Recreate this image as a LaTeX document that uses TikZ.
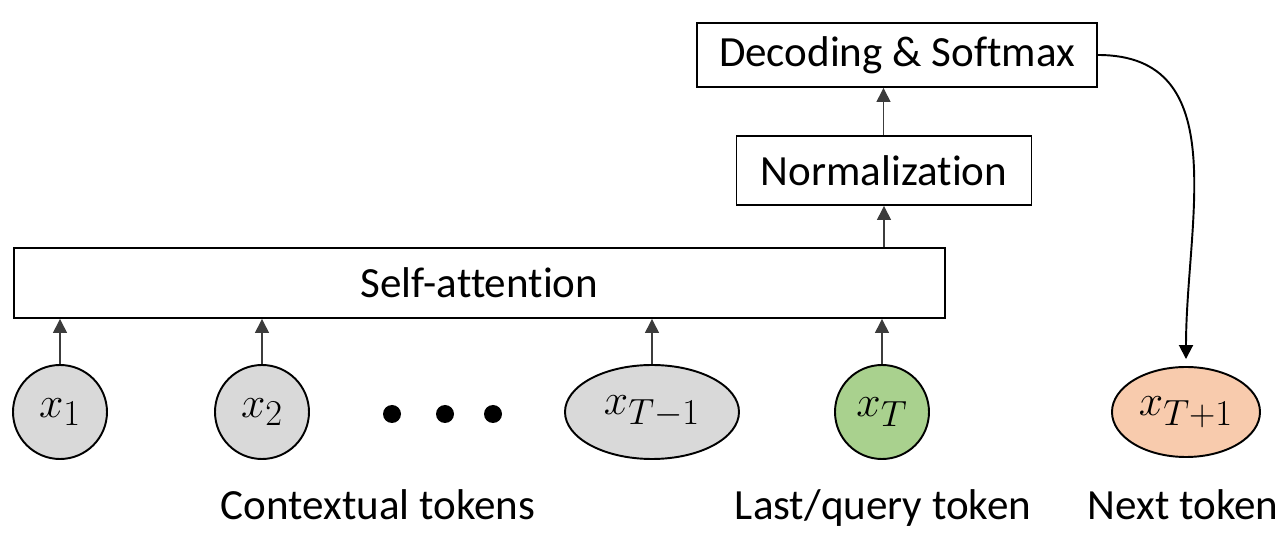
\documentclass[tikz,border=0pt]{standalone}
\usepackage[no-math]{fontspec}
\setmainfont[Ligatures={NoCommon}]{Carlito}
\usepackage{tikz}
\usetikzlibrary{positioning, shapes.geometric, arrows.meta}
\usepackage{amsmath}
\definecolor{tokengray}{RGB}{217,217,217}
\definecolor{querygreen}{RGB}{169,209,142}
\definecolor{nextorange}{RGB}{248,203,173}
\definecolor{linkgray}{RGB}{60,60,60}
\tikzset{
    >={Triangle[length=0.28cm, width=0.28cm]}, % Filled arrowheads
    block/.style={draw, line width=1.1pt, minimum height=1.38cm, inner sep=0pt,
        font=\fontsize{24.5}{28}\selectfont}, % Styling for boxes
    token/.style={draw, line width=1.1pt, ellipse, minimum width=1.88cm,
        minimum height=1.88cm, inner sep=0pt, fill=tokengray,
        font=\fontsize{32}{36}\selectfont}, % Styling for tokens
    link/.style={->, draw=linkgray, line width=0.8pt}, % Thin upward arrows
    caption/.style={anchor=base, inner sep=0pt,
        font=\fontsize{24.5}{28}\selectfont}, % Text under tokens
}
\begin{document}
\begin{tikzpicture}
    \useasboundingbox (0,0) rectangle (25.62,-10.66);

    \node[block, minimum width=18.62cm, minimum height=1.40cm] (selfatt) at (9.59,-5.66) {Self-attention};
    \node[block, minimum width=5.90cm] (norm) at (17.68,-3.41) {Normalization};
    \node[block, minimum width=8.00cm, minimum height=1.28cm] (dec) at (17.94,-1.10) {Decoding \& Softmax};

    \node[token] (x1) at (1.20,-8.24) {$x_1$};
    \node[token] (x2) at (5.24,-8.24) {$x_2$};
    \node[token, minimum width=3.48cm] (xTm1) at (13.04,-8.24) {$x_{T-1}$};
    \node[token, fill=querygreen] (xT) at (17.64,-8.24) {$x_T$};
    \node[token, fill=nextorange, minimum width=2.96cm, minimum height=1.80cm] (xTp1) at (23.72,-8.24) {$x_{T+1}$};

    % dots between x2 and x_{T-1}
    \foreach \name/\x in {d1/7.84, d2/8.90, d3/9.86}
        \node[circle, fill=black, minimum size=0.36cm, inner sep=0pt] (\name) at (\x,-8.28) {};

    \node[caption] (ctx) at (7.56,-10.40) {Contextual tokens};
    \node[caption] (last) at (17.66,-10.40) {Last/query token};
    \node[caption] (next) at (23.66,-10.40) {Next token};

    \foreach \tok in {x1, x2, xTm1, xT}
        \draw[link] (\tok.north) -- (selfatt.south -| \tok.north);
    \draw[link] (selfatt.north -| norm.south) -- (norm.south);
    \draw[link] (norm.north -| dec.south) ++(-0.27,0) coordinate (nt) -- (dec.south -| nt);

    \draw[->, line width=1.1pt] (dec.east) to[out=0, in=90, looseness=1.1] ([yshift=0.14cm]xTp1.north);
\end{tikzpicture}
\end{document}
